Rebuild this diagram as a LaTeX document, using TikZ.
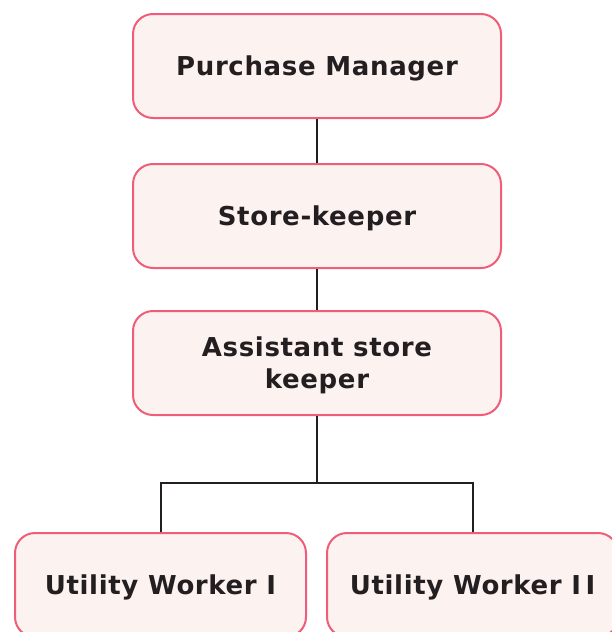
\documentclass[tikz,border=0pt]{standalone}
\usepackage{fontspec}
\setmainfont{DejaVu Sans}
\newfontfamily\rolefont[LetterSpace=2.5]{DejaVu Sans}
\definecolor{boxline}{HTML}{EF5D78}
\definecolor{boxfill}{HTML}{FCF3F1}
\definecolor{linkcol}{HTML}{231F20}
\begin{document}
\begin{tikzpicture}[x=1pt,y=-1pt,
  rolebox/.style={draw=boxline,fill=boxfill,line width=2pt,rounded corners=20pt,
    minimum width=368pt,minimum height=104pt,inner sep=0pt,align=center,
    text depth=0pt,
    font=\rolefont\fontsize{26}{32}\selectfont\bfseries,text=linkcol},
  link/.style={draw=linkcol,line width=2pt}]
\useasboundingbox (0,0) rectangle (611,632);
\node[rolebox] (pm) at (317,66) {Purchase Manager};
\node[rolebox] (sk) at (317,216) {Store-keeper};
\node[rolebox] (ask) at (317,363) {Assistant store\\ keeper};
\node[rolebox,minimum width=291pt] (uw1) at (160.5,585) {Utility Worker I};
\node[rolebox,minimum width=291pt] (uw2) at (472.5,585) {Utility Worker I\,I};
\draw[link] (pm) -- (sk);
\draw[link] (sk) -- (ask);
\coordinate (split) at (317,483);
\draw[link] (ask) -- (split);
\draw[link] (uw1.north) |- (split) -| (uw2.north);
\end{tikzpicture}
\end{document}
